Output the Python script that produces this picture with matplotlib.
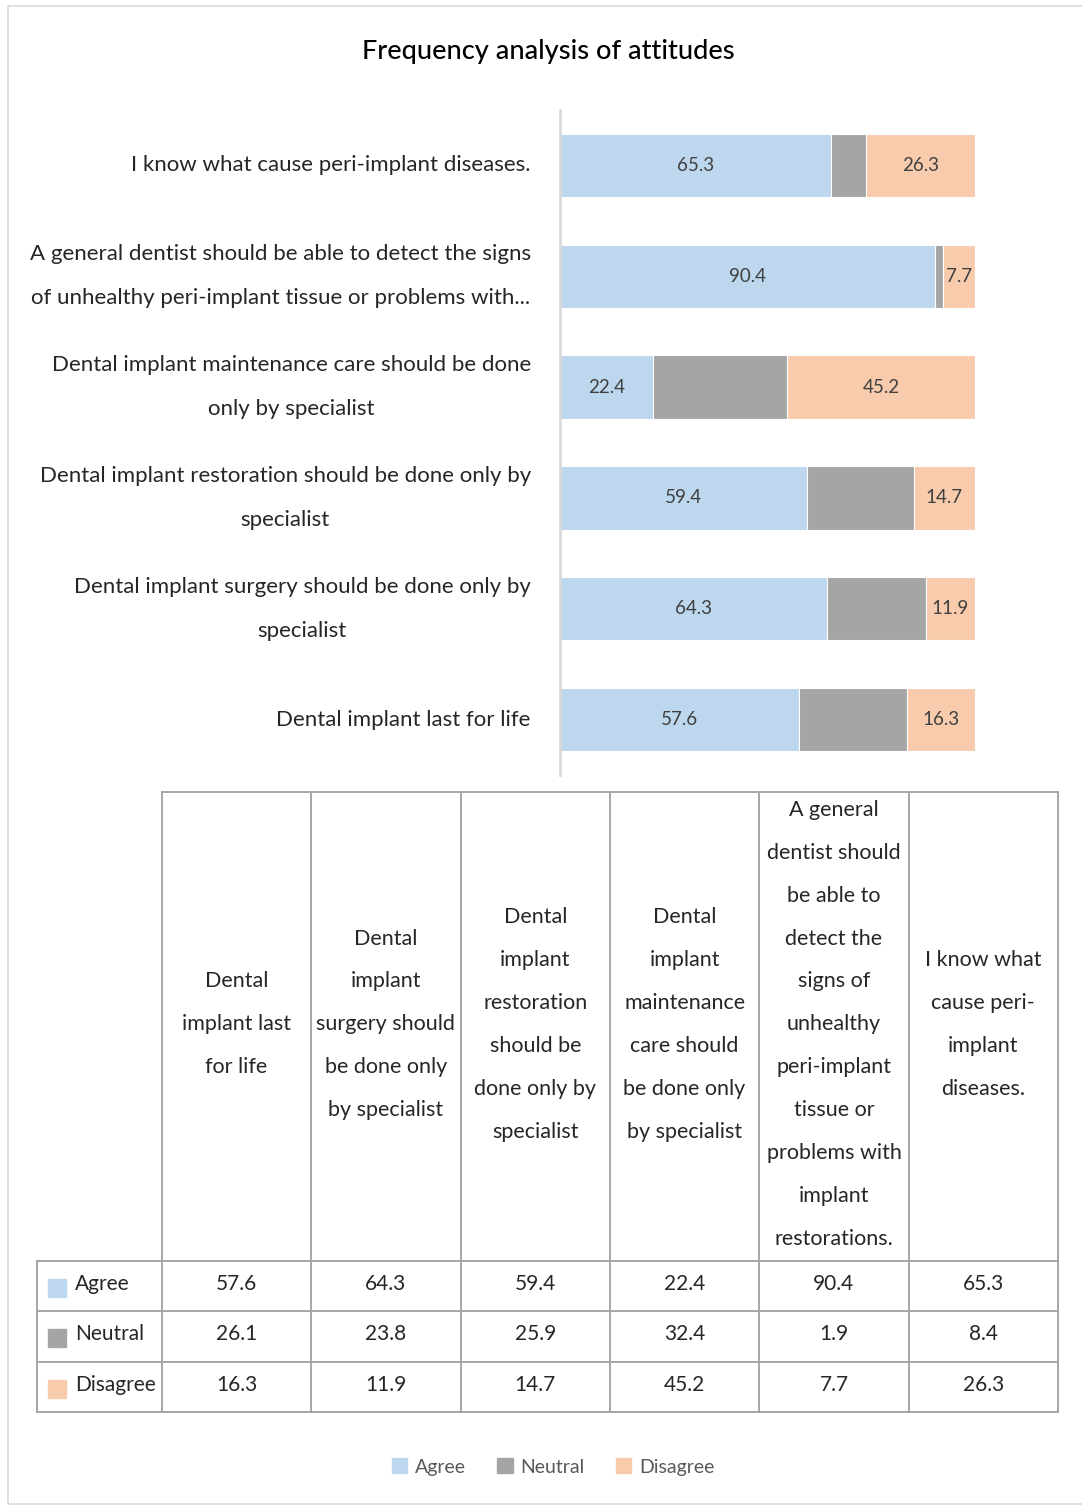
import matplotlib.pyplot as plt
from matplotlib.patches import Patch, Rectangle

plt.rcParams['font.family'] = ['Lato', 'DejaVu Sans']

# data, in table order (left to right); bars are drawn bottom to top
bar_labels = ["Dental implant last for life",
              "Dental implant surgery should be done only by\nspecialist",
              "Dental implant restoration should be done only by\nspecialist",
              "Dental implant maintenance care should be done\nonly by specialist",
              "A general dentist should be able to detect the signs\nof unhealthy peri-implant tissue or problems with...",
              "I know what cause peri-implant diseases."]
table_headers = ["Dental\nimplant last\nfor life",
                 "Dental\nimplant\nsurgery should\nbe done only\nby specialist",
                 "Dental\nimplant\nrestoration\nshould be\ndone only by\nspecialist",
                 "Dental\nimplant\nmaintenance\ncare should\nbe done only\nby specialist",
                 "A general\ndentist should\nbe able to\ndetect the\nsigns of\nunhealthy\nperi-implant\ntissue or\nproblems with\nimplant\nrestorations.",
                 "I know what\ncause peri-\nimplant\ndiseases."]
agree = [57.6, 64.3, 59.4, 22.4, 90.4, 65.3]
neutral = [26.1, 23.8, 25.9, 32.4, 1.9, 8.4]
disagree = [16.3, 11.9, 14.7, 45.2, 7.7, 26.3]
series_names = ["Agree", "Neutral", "Disagree"]
colors = ["#BDD7EE", "#A5A5A5", "#F8CBAD"]

W, H = 1082, 1506
fig = plt.figure(figsize=(W / 100, H / 100), dpi=100)


def box(x0, y0, x1, y1):
    # pixel box (top-left origin) -> figure fraction rect
    return [x0 / W, 1 - y1 / H, (x1 - x0) / W, (y1 - y0) / H]


# outer frame
fig.patches.append(Rectangle((8 / W, 2 / H), 1.2, 1 - 8 / H, transform=fig.transFigure,
                             fill=False, edgecolor="#D9D9D9", lw=1.2))

fig.text(548 / W, 1 - 51 / H, "Frequency analysis of attitudes", ha="center", va="center",
         fontsize=19.5, color="black", weight="medium")

# stacked bar chart
ax = fig.add_axes(box(560, 110, 975, 775))
ypos = list(range(len(agree)))
series = [agree, neutral, disagree]
left = [0] * len(agree)
for name, vals, c in zip(series_names, series, colors):
    bars = ax.barh(ypos, vals, left=left, height=0.57, color=c, edgecolor="white", lw=0.8)
    if name != "Neutral":
        ax.bar_label(bars, labels=[f"{v:.1f}" for v in vals], label_type="center",
                     fontsize=13.5, color="#404040")
    left = [l + v for l, v in zip(left, vals)]
ax.set_xlim(0, 100)
ax.set_ylim(-0.5, len(agree) - 0.5)
ax.set_yticks(ypos)
ax.set_yticklabels(bar_labels, fontsize=16, color="#262626", linespacing=2.5,
                   multialignment="center")
for t in ax.get_yticklabels():
    t.set_verticalalignment("center")
ax.tick_params(axis="y", length=0, pad=21)
ax.set_xticks([])
for s in ["top", "right", "bottom"]:
    ax.spines[s].set_visible(False)
ax.spines["left"].set_color("#D9D9D9")
ax.spines["left"].set_linewidth(2)

# data table
lab_w = 125 / 149.5
head_h = 469
row_h = 50.5
tab = fig.add_axes(box(37, 792, 1058, 1412))
tab.set_xlim(-lab_w, 6)
tab.set_ylim(head_h + 3 * row_h, 0)
tab.axis("off")
lc, lw = "#A6A6A6", 1.4
ncol = len(table_headers)
for i in range(ncol + 1):
    tab.plot([i, i], [0, head_h + 3 * row_h], color=lc, lw=lw, clip_on=False)
tab.plot([-lab_w, -lab_w], [head_h, head_h + 3 * row_h], color=lc, lw=lw, clip_on=False)
tab.plot([0, ncol], [0, 0], color=lc, lw=lw, clip_on=False)
for r in range(4):
    y = head_h + r * row_h
    tab.plot([-lab_w, ncol], [y, y], color=lc, lw=lw, clip_on=False)
for i, h in enumerate(table_headers):
    tab.text(i + 0.5, head_h / 2 - 2, h, ha="center", va="center", fontsize=15.5,
             color="#262626", linespacing=2.43)
for r, (name, vals, c) in enumerate(zip(series_names, series, colors)):
    yc = head_h + (r + 0.5) * row_h
    tab.add_patch(Rectangle((-lab_w + 11 / 149.5, yc - 7), 18 / 149.5, 18, color=c))
    tab.text(-lab_w + 38 / 149.5, yc - 2, name, ha="left", va="center", fontsize=15,
             color="#262626")
    for i, v in enumerate(vals):
        tab.text(i + 0.5, yc - 2, f"{v:.1f}", ha="center", va="center", fontsize=15,
                 color="#262626")

handles = [Patch(color=c, label=n) for n, c in zip(series_names, colors)]
leg = fig.legend(handles=handles, loc="center", bbox_to_anchor=(553 / W, 1 - 1467 / H),
                 ncol=3, frameon=False, fontsize=14, handlelength=0.8, handleheight=0.8,
                 handletextpad=0.4, columnspacing=1.6)
for t in leg.get_texts():
    t.set_color("#595959")

fig.savefig("out.png", dpi=100)
